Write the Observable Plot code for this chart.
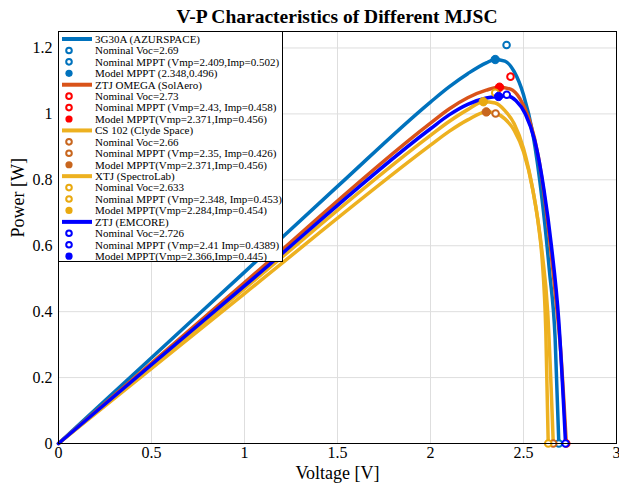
<!DOCTYPE html>
<html>
<head>
<meta charset="utf-8">
<script src="https://cdn.jsdelivr.net/npm/d3@7"></script>
<script src="https://cdn.jsdelivr.net/npm/@observablehq/plot@0.6"></script>
<style>
  body { margin: 0; background: #fff; }
  #wrap { position: relative; width: 619px; height: 490px; overflow: hidden; background: #fff;
          font-family: "Liberation Serif", "Times New Roman", serif; color: #000; }
  #title { height: 20px; padding: 4px 3px 0 58px; line-height: 26px; text-align: center;
           font-weight: bold; font-size: 19.5px; white-space: nowrap; }
  #chart { height: 466px; }
  #legend { position: absolute; left: 58px; top: 31px; }
  #chart svg text, #legend svg text { font-family: "Liberation Serif", "Times New Roman", serif; }
</style>
</head>
<body>
<div id="wrap">
  <div id="title">V-P Characteristics of Different MJSC</div>
  <div id="chart"></div>
  <div id="legend"></div>
</div>
<script>
// ---- Data ----
const seriesNames = ["3G30A (AZURSPACE)", "ZTJ OMEGA (SolAero)", "CS 102 (Clyde Space)", "XTJ (SpectroLab)", "ZTJ (EMCORE)"];
const lineColors   = ["#0072BD", "#D95319", "#EDB120", "#EDB120", "#0000FF"];
const markerColors = ["#0072BD", "#FF0000", "#C8661E", "#E9A90F", "#0000FF"];

// V-P curves (Voltage [V], Power [W])
const vAzur  = [0, 0.5, 1.0, 1.5, 2.0, 2.1, 2.2, 2.3, 2.348, 2.4, 2.45, 2.5, 2.55, 2.6, 2.64, 2.67, 2.69];
const pAzur  = [0, 0.26, 0.52, 0.78, 1.036, 1.082, 1.122, 1.155, 1.165, 1.16, 1.128, 1.058, 0.94, 0.74, 0.52, 0.32, 0];
const vOmega = [0, 1.0, 2.0, 2.1, 2.2, 2.3, 2.371, 2.43, 2.48, 2.53, 2.58, 2.63, 2.67, 2.7, 2.73];
const pOmega = [0, 0.488, 0.972, 1.015, 1.049, 1.072, 1.081, 1.075, 1.047, 0.985, 0.87, 0.67, 0.46, 0.28, 0];
const vCs    = [0, 1.0, 2.0, 2.1, 2.2, 2.3, 2.35, 2.4, 2.45, 2.5, 2.55, 2.6, 2.63, 2.66];
const pCs    = [0, 0.455, 0.905, 0.947, 0.982, 1.006, 1.002, 0.985, 0.95, 0.885, 0.77, 0.58, 0.4, 0];
const vXtj   = [0, 1.0, 2.0, 2.1, 2.2, 2.284, 2.348, 2.4, 2.45, 2.5, 2.55, 2.58, 2.6, 2.62, 2.633];
const pXtj   = [0, 0.47, 0.935, 0.977, 1.013, 1.037, 1.033, 1.01, 0.97, 0.895, 0.77, 0.665, 0.56, 0.34, 0];
const vEmc   = [0, 1.0, 2.0, 2.1, 2.2, 2.3, 2.366, 2.41, 2.46, 2.51, 2.56, 2.61, 2.65, 2.69, 2.726];
const pEmc   = [0, 0.478, 0.955, 0.997, 1.029, 1.048, 1.053, 1.055, 1.04, 1.0, 0.92, 0.77, 0.6, 0.37, 0];

// Markers
const vocV = [2.69, 2.73, 2.66, 2.633, 2.726];
const nomV = [2.409, 2.43, 2.35, 2.348, 2.41];
const nomP = [1.209, 1.113, 1.001, 1.064, 1.058];
const modV = [2.348, 2.371, 2.30, 2.284, 2.366];
const modP = [1.165, 1.081, 1.006, 1.037, 1.053];

// Legend texts
const legendVoc = ["Nominal Voc=2.69", "Nominal Voc=2.73", "Nominal Voc=2.66", "Nominal Voc=2.633", "Nominal Voc=2.726"];
const legendNom = ["Nominal MPPT (Vmp=2.409,Imp=0.502)", "Nominal MPPT (Vmp=2.43, Imp=0.458)",
                   "Nominal MPPT (Vmp=2.35, Imp=0.426)", "Nominal MPPT (Vmp=2.348, Imp=0.453)",
                   "Nominal MPPT (Vmp=2.41 Imp=0.4389)"];
const legendMod = ["Model MPPT (2.348,0.496)", "Model MPPT(Vmp=2.371,Imp=0.456)", "Model MPPT(Vmp=2.371,Imp=0.456)",
                   "Model MPPT(Vmp=2.284,Imp=0.454)", "Model MPPT(Vmp=2.366,Imp=0.445)"];

const xTicks = [0, 0.5, 1, 1.5, 2, 2.5, 3];
const yTicks = [0, 0.2, 0.4, 0.6, 0.8, 1, 1.2];

// ---- Build tables ----
const serif = "Liberation Serif, Times New Roman, serif";
const curveV = [vAzur, vOmega, vCs, vXtj, vEmc];
const curveP = [pAzur, pOmega, pCs, pXtj, pEmc];
const curves = seriesNames.map((s, i) => curveV[i].map((v, j) => ({series: s, V: v, P: curveP[i][j]})));

const marks = [
  Plot.gridX(xTicks, {stroke: "#dedede", strokeOpacity: 1, strokeWidth: 1}),
  Plot.gridY(yTicks, {stroke: "#dedede", strokeOpacity: 1, strokeWidth: 1}),
  Plot.axisX({ticks: xTicks, tickSize: 0, tickPadding: 3, label: null, fontSize: 16, fontFamily: serif, tickFormat: d => String(d)}),
  Plot.axisY({ticks: yTicks, tickSize: 0, tickPadding: 6, label: null, fontSize: 16, fontFamily: serif, tickFormat: d => String(d)}),
  Plot.text(["Voltage [V]"], {frameAnchor: "bottom", dy: 35, fontSize: 18, fontFamily: serif}),
  Plot.text(["Power [W]"], {frameAnchor: "left", dx: -40, rotate: -90, fontSize: 18, fontFamily: serif})
];
seriesNames.forEach((s, i) => {
  marks.push(Plot.line(curves[i], {x: "V", y: "P", stroke: lineColors[i], strokeWidth: 3.5, curve: "monotone-x"}));
});
seriesNames.forEach((s, i) => {
  const c = markerColors[i];
  marks.push(Plot.dot([{V: vocV[i], P: 0}], {x: "V", y: "P", r: 3.3, stroke: c, strokeWidth: 2, fill: "white"}));
  marks.push(Plot.dot([{V: nomV[i], P: nomP[i]}], {x: "V", y: "P", r: 3.3, stroke: c, strokeWidth: 2, fill: "white"}));
  marks.push(Plot.dot([{V: modV[i], P: modP[i]}], {x: "V", y: "P", r: 4.2, fill: c, stroke: c, strokeWidth: 1}));
});
marks.push(Plot.frame({stroke: "#000", strokeWidth: 1}));

const chart = Plot.plot({
  width: 619,
  height: 466,
  marginTop: 7,
  marginBottom: 47,
  marginLeft: 58,
  marginRight: 3,
  x: {domain: [0, 3]},
  y: {domain: [0, 1.25]},
  style: {fontFamily: serif, fontSize: "15px", color: "#000", background: "white", overflow: "visible"},
  marks
});
document.getElementById("chart").appendChild(chart);

// ---- Legend (inside the plot, top-left) ----
const LW = 225, LH = 231, rowH = 11.43, row0 = 8;
const lg = d3.select("#legend").append("svg").attr("width", LW).attr("height", LH)
  .style("font-family", serif).style("font-size", "11px");
lg.append("rect").attr("x", 0.5).attr("y", 0.5).attr("width", LW - 1).attr("height", LH - 1)
  .attr("fill", "white").attr("stroke", "#000").attr("stroke-width", 1);
seriesNames.forEach((s, i) => {
  const base = i * 4;
  const yL = row0 + rowH * base;
  lg.append("line").attr("x1", 4).attr("x2", 34).attr("y1", yL).attr("y2", yL)
    .attr("stroke", lineColors[i]).attr("stroke-width", 4);
  const rows = [
    {t: s, kind: "line"},
    {t: legendVoc[i], kind: "open"},
    {t: legendNom[i], kind: "open"},
    {t: legendMod[i], kind: "filled"}
  ];
  rows.forEach((r, k) => {
    const y = row0 + rowH * (base + k);
    if (r.kind === "open") {
      lg.append("circle").attr("cx", 11).attr("cy", y).attr("r", 2.8)
        .attr("fill", "white").attr("stroke", markerColors[i]).attr("stroke-width", 2);
    } else if (r.kind === "filled") {
      lg.append("circle").attr("cx", 11).attr("cy", y).attr("r", 3.6)
        .attr("fill", markerColors[i]).attr("stroke", "none");
    }
    lg.append("text").attr("x", 37).attr("y", y).attr("dy", "0.35em").attr("fill", "#000").text(r.t);
  });
});
</script>
</body>
</html>
